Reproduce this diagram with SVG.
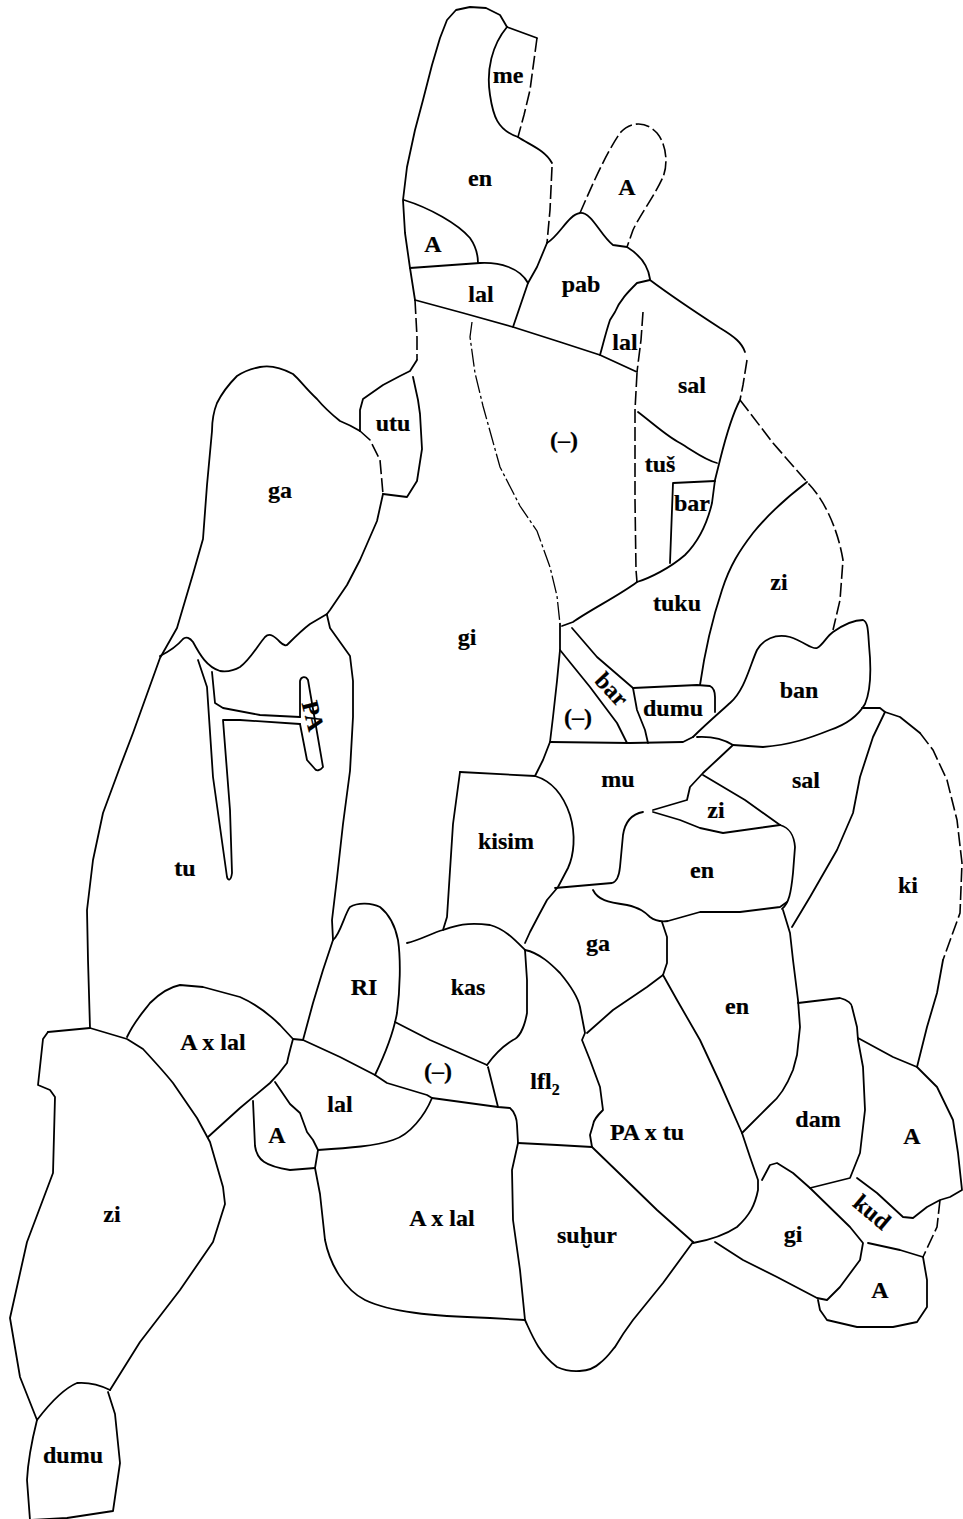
<svg xmlns="http://www.w3.org/2000/svg" width="963" height="1519" viewBox="0 0 963 1519">
<style>
.l{fill:none;stroke:#000;stroke-width:1.8;stroke-linejoin:round;stroke-linecap:round}
.d{fill:none;stroke:#000;stroke-width:1.6;stroke-dasharray:14 4;stroke-linecap:butt}
.f{fill:none;stroke:#000;stroke-width:1.3;stroke-dasharray:18 3 3 3}
text{font-family:"Liberation Serif","Times New Roman",serif;font-size:24px;font-weight:bold;fill:#000;stroke:#000;stroke-width:0.2;text-anchor:middle}
</style>
<rect width="963" height="1519" fill="#fff"/>
<g id="outlines">
<path class="l" d="M415,300 L410,268 L405,233 L403,200 L407,167 L415,130 L423,100 L432,65 L440,38 L447,20 L456,10 L470,7 L486,8 L500,15 L507,27"/>
<path class="l" d="M507,27 C492,45 486,70 490,95 C493,115 497,130 518,137"/>
<path class="l" d="M507,27 L537,38"/>
<path class="d" d="M537,38 L530,90 L524,115 L518,137"/>
<path class="l" d="M518,137 C530,145 545,150 552,163"/>
<path class="d" d="M552,167 L550,210 L547,243"/>
<path class="l" d="M547,243 L537,267 L528,283 L513,327"/>
<path class="l" d="M404,200 C430,208 458,224 470,238 C477,248 478,256 478,263"/>
<path class="l" d="M410,268 L480,263 C500,262 520,268 528,283"/>
<path class="l" d="M415,300 L463,313 L513,327 L560,342 L600,355 L637,372"/>
<path class="l" d="M547,243 C560,235 568,215 580,213 C592,212 600,235 613,245 L627,247 C640,255 648,265 650,279"/>
<path class="d" d="M580,213 C590,190 605,155 620,133 C630,122 645,120 657,133 C667,145 668,165 663,177 C655,195 640,215 633,230 L627,247"/>
<path class="l" d="M650,280 L637,283 C628,292 620,300 615,312 L610,320 C605,335 603,345 600,355"/>
<path class="d" d="M643,312 L641,340 L637,372"/>
<path class="l" d="M650,280 C670,295 700,315 720,328 C735,337 742,343 745,352"/>
<path class="d" d="M747,360 L743,385 L740,400"/>
<path class="d" d="M740,400 L773,443 L807,482 C825,500 838,530 843,560 L840,600 L833,630"/>
<path class="d" d="M637,373 L635,410 L635,500 L636,570 L637,582"/>
<path class="l" d="M638,412 C655,425 668,437 680,443 C695,452 705,460 717,463"/>
<path class="l" d="M740,400 C732,415 725,440 720,460 L715,480 L712,503 C708,520 700,540 685,555 C670,568 650,578 637,582"/>
<path class="l" d="M670,563 L673,483 L715,481"/>
<path class="l" d="M807,482 C790,495 770,512 753,533 C740,550 730,565 722,590 C712,620 705,650 700,685"/>
<path class="l" d="M637,582 C620,595 590,610 573,622 L562,626"/>
<path class="f" d="M472,322 L470,337 L475,373 L483,406 L500,467 L520,506 L537,531 L550,567 L557,596 L560,624"/>
<path class="l" d="M560,624 L560,650 L557,681 L553,717 L550,742 L543,760 L535,776"/>
<path class="l" d="M572,628 L597,657 L633,688"/>
<path class="l" d="M560,650 L590,687 L617,723 L627,743"/>
<path class="l" d="M633,688 L637,710 L645,730 L648,743"/>
<path class="l" d="M633,688 L697,685 L710,686 C714,688 715,692 715,697 L715,712"/>
<path class="l" d="M550,742 L630,743 L683,742 L693,737"/>
<path class="l" d="M693,737 C705,725 720,712 730,703 C745,690 750,665 757,650 C763,640 775,633 790,637 C805,642 812,650 817,648 C823,645 826,637 833,632 C843,625 855,620 863,620 C868,622 868,630 869,645 C871,665 871,690 865,704 C858,716 845,725 830,730 C810,738 790,745 763,747 L733,745"/>
<path class="l" d="M733,745 C725,740 715,736 697,737"/>
<path class="l" d="M733,745 L717,760 L703,773 L690,787 L687,800 L670,805 L653,810"/>
<path class="l" d="M703,775 L745,800 L780,825"/>
<path class="l" d="M653,812 L680,820 L700,828 L723,833 L780,825"/>
<path class="l" d="M643,812 C632,814 625,822 623,835 L620,867 C619,877 616,882 612,883 L555,888"/>
<path class="l" d="M780,825 C790,828 794,835 795,847 L793,873 C791,893 789,903 782,909"/>
<path class="l" d="M593,890 C598,900 607,902 627,905 C640,908 645,912 650,917 C655,921 660,922 668,921 L700,912 L740,912 L780,907 L787,902"/>
<path class="l" d="M783,910 L790,933 L793,960 L798,1000 L800,1027 L797,1055 L793,1070 C787,1085 780,1097 770,1105 C760,1115 750,1125 742,1133"/>
<path class="l" d="M662,922 L667,937 L667,963 L663,975"/>
<path class="l" d="M663,975 L677,1000 L700,1040 L720,1083 L742,1133 L750,1157 L758,1180 L758,1190 C755,1205 750,1215 737,1227 C725,1235 710,1240 693,1243"/>
<path class="l" d="M663,975 L647,987 L613,1010 L587,1033"/>
<path class="l" d="M535,776 C555,782 565,800 570,815 C576,835 574,855 568,868 L558,887 L547,900 L540,913 L530,932 L525,943"/>
<path class="l" d="M460,772 L535,776"/>
<path class="l" d="M460,772 L453,824 L447,917 L443,930"/>
<path class="l" d="M407,943 C420,940 432,933 443,930 C455,926 465,922 490,925 C505,929 515,940 525,950"/>
<path class="l" d="M333,940 C340,935 345,913 350,907 C358,902 372,903 380,907 C390,915 395,925 398,940 C401,960 400,990 397,1013 C394,1030 388,1048 375,1075"/>
<path class="l" d="M525,950 L527,980 L527,1013 C524,1030 518,1038 513,1040 C500,1048 492,1058 487,1065"/>
<path class="l" d="M395,1022 L430,1040 L487,1065"/>
<path class="l" d="M488,1067 L498,1107"/>
<path class="l" d="M432,1098 L498,1107 L510,1108 C515,1112 517,1120 517,1125 L518,1143"/>
<path class="l" d="M293,1039 L303,1040 L340,1057 L375,1075 L387,1083 L427,1095 L432,1098"/>
<path class="l" d="M432,1098 C425,1115 410,1135 393,1140 C375,1146 350,1148 318,1150"/>
<path class="l" d="M275,1082 L290,1104 L300,1113 L307,1132 L313,1140 L318,1150"/>
<path class="l" d="M253,1101 L255,1146 C257,1160 265,1166 290,1170 L315,1168"/>
<path class="l" d="M318,1150 L315,1168 L320,1194 L325,1240 C330,1265 345,1290 365,1300 C390,1312 430,1316 490,1318 L525,1320"/>
<path class="l" d="M518,1143 L512,1170 L513,1220 L520,1270 L525,1320"/>
<path class="l" d="M525,1320 C532,1335 538,1352 557,1367 C570,1373 590,1373 600,1363 C608,1357 612,1350 615,1347 C622,1335 627,1328 633,1320 L663,1283 L693,1242"/>
<path class="l" d="M518,1143 L557,1145 L592,1147"/>
<path class="l" d="M592,1147 L623,1177 L657,1210 L693,1242"/>
<path class="l" d="M525,950 C540,953 552,965 560,973 C570,985 578,997 580,1007 L585,1033 L582,1040 L590,1060 L600,1087 L603,1110 C598,1115 593,1120 593,1125 L590,1135 L592,1147"/>
<path class="l" d="M127,1037 C135,1020 145,1010 150,1003 C160,993 170,987 180,985 L203,987 L240,997 C258,1005 270,1015 280,1025 L293,1039 C290,1050 288,1058 287,1063 C282,1070 276,1077 270,1083 L240,1108 L208,1137"/>
<path class="l" d="M48,1032 L90,1028 L127,1039 L143,1049 C155,1062 165,1073 173,1083 L197,1118 L210,1142 L223,1187 L225,1204 L213,1242 L180,1290 L140,1342 L110,1390"/>
<path class="l" d="M110,1390 C100,1385 90,1382 77,1383 C65,1388 50,1403 37,1420 L20,1377 L10,1318 L27,1242 L53,1173 L55,1097 L50,1090 L38,1085 L43,1039 L48,1032"/>
<path class="l" d="M37,1420 C32,1440 28,1460 27,1480 L30,1520 L67,1518 L113,1511 L120,1463 L115,1414 L108,1392"/>
<path class="l" d="M360,431 C350,425 345,423 340,421 C330,413 322,405 317,399 C305,388 300,380 293,374 C280,367 270,365 260,367 C250,369 243,372 237,376 C228,385 222,393 217,403 C213,413 212,422 212,431 L207,485 L203,539 L193,574 L177,628 L160,658 L133,733 L120,767 L103,813 L93,860 L87,910 L88,960 L90,1028"/>
<path class="l" d="M160,656 C168,652 178,645 183,639 C186,636 190,638 193,642 C200,655 207,667 220,671 C228,672 235,670 240,667 C250,660 258,645 265,637 C270,632 275,637 280,642 C284,646 287,646 288,644 C295,637 302,630 310,624 L327,614"/>
<path class="l" d="M327,614 L330,610 L347,585 L360,560 L377,521 L383,494"/>
<path class="d" d="M360,431 L370,440 L380,460 L383,494"/>
<path class="l" d="M417,360 L410,371 L400,376 L383,385 L363,399 L360,410 L360,431"/>
<path class="l" d="M413,377 L418,400 L420,414 L422,449 L417,481 L407,497 L383,494"/>
<path class="d" d="M415,300 L417,337 L417,360"/>
<path class="l" d="M327,615 L330,628 L350,656 L353,681 L353,717 L350,771 L343,824 L337,878 L332,920 L333,940 L323,970 L313,1003 L303,1040"/>
<path class="l" d="M198,660 L207,687 L213,777 L227,877 C228,881 231,881 232,873 L230,810 L223,720 L240,720 L300,724"/>
<path class="l" d="M212,672 L215,703 L223,708 L260,715 L300,717"/>
<path class="l" d="M300,717 L300,681 C301,676 306,676 308,680 L323,767 C320,771 316,771 315,769 L307,760 L300,724"/>
<path class="l" d="M862,708 L880,708 L885,712 L900,717 L920,733"/>
<path class="d" d="M920,733 L933,750 L947,780 L957,820 L962,863 L960,913 L943,960"/>
<path class="l" d="M943,960 L937,993 L927,1027 L917,1067"/>
<path class="l" d="M885,712 L873,737 L860,777 L853,813 L837,850 L810,897 L792,927"/>
<path class="l" d="M798,1003 L840,998 C848,1000 852,1004 852,1007 L857,1027 L858,1040 L863,1067 L865,1110 L860,1153 L850,1178 L810,1188"/>
<path class="l" d="M858,1038 L893,1057 L917,1067 L937,1087 L953,1120 L958,1153 L962,1190 L950,1197 L940,1200 L927,1207 L913,1218 L903,1217 L877,1193 L857,1178"/>
<path class="d" d="M940,1200 L937,1227 L923,1257"/>
<path class="l" d="M868,1243 L900,1250 L923,1257"/>
<path class="l" d="M923,1257 L927,1280 L927,1307 L917,1322 L893,1327 L857,1327 L827,1320 L820,1310 L818,1300"/>
<path class="l" d="M762,1180 L770,1165 L777,1163 L793,1173 L810,1188 L850,1227 L863,1243 L860,1260 L840,1287 L827,1300 L817,1298 L777,1277 L743,1260 L715,1242"/>
</g>
<g id="labels">
<text x="508" y="83">me</text>
<text x="480" y="186">en</text>
<text x="627" y="195">A</text>
<text x="433" y="252">A</text>
<text x="481" y="302">lal</text>
<text x="581" y="292">pab</text>
<text x="625" y="350">lal</text>
<text x="692" y="393">sal</text>
<text x="564" y="448">(–)</text>
<text x="393" y="431">utu</text>
<text x="660" y="472">tuš</text>
<text x="692" y="511">bar</text>
<text x="280" y="498">ga</text>
<text x="779" y="590">zi</text>
<text x="677" y="611">tuku</text>
<text x="467" y="645">gi</text>
<text x="799" y="698">ban</text>
<text transform="translate(313,716) rotate(76)" y="8">PA</text>
<text transform="translate(611,690) rotate(47)" y="7">bar</text>
<text x="578" y="725">(–)</text>
<text x="673" y="716">dumu</text>
<text x="618" y="787">mu</text>
<text x="806" y="788">sal</text>
<text x="716" y="818">zi</text>
<text x="506" y="849">kisim</text>
<text x="702" y="878">en</text>
<text x="185" y="876">tu</text>
<text x="908" y="893">ki</text>
<text x="598" y="951">ga</text>
<text x="364" y="995">RI</text>
<text x="468" y="995">kas</text>
<text x="737" y="1014">en</text>
<text x="213" y="1050">A x lal</text>
<text x="438" y="1079">(–)</text>
<text x="545" y="1089">lfl<tspan font-size="16" dy="6">2</tspan></text>
<text x="340" y="1112">lal</text>
<text x="277" y="1143">A</text>
<text x="647" y="1140">PA x tu</text>
<text x="818" y="1127">dam</text>
<text x="912" y="1144">A</text>
<text transform="translate(872,1212) rotate(40)" y="8">kud</text>
<text x="112" y="1222">zi</text>
<text x="442" y="1226">A x lal</text>
<text x="587" y="1243">suḫur</text>
<text x="793" y="1242">gi</text>
<text x="880" y="1298">A</text>
<text x="73" y="1463">dumu</text>
</g>
</svg>
